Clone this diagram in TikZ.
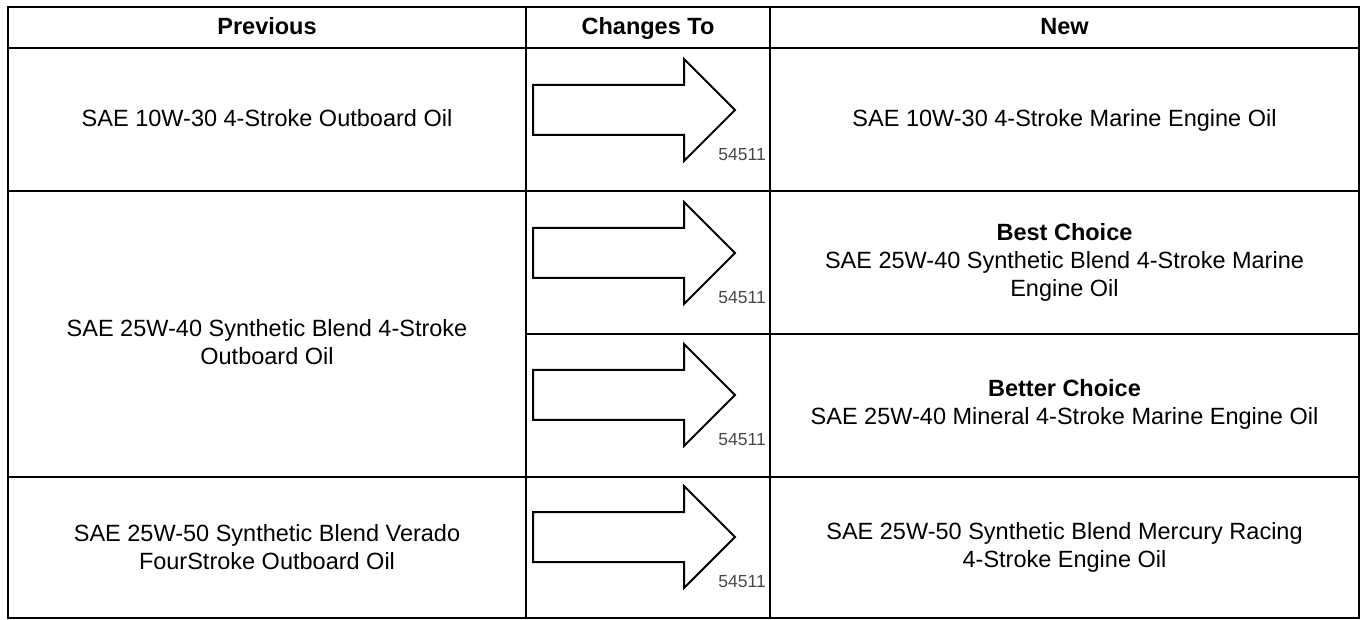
\documentclass[tikz,border=0pt]{standalone}
\usepackage{fontspec}
\setmainfont{Liberation Sans}
\begin{document}
\begin{tikzpicture}[x=1pt,y=-1pt,
  cell/.style={inner sep=0pt, align=center, font=\fontsize{23.5}{28}\selectfont},
  oneline/.style={cell, anchor=base},
  headcell/.style={oneline, font=\fontsize{23.5}{28}\selectfont\bfseries},
  gridline/.style={line width=2pt, black},
  bigarrow/.style={line width=2pt, black, fill=white, line join=miter},
  partno/.style={inner sep=0pt, anchor=east, text=black!72, font=\fontsize{17.5}{20}\selectfont}]
\useasboundingbox (0,0) rectangle (1361,620);

% table grid
\draw[gridline] (8,7) rectangle (1359,618);
\draw[gridline] (8,48.5) -- (1359,48.5);
\draw[gridline] (8,191.5) -- (1359,191.5);
\draw[gridline] (526,334) -- (1359,334);
\draw[gridline] (8,476.5) -- (1359,476.5);
\draw[gridline] (526,7) -- (526,618);
\draw[gridline] (770,7) -- (770,618);

% headers
\node[headcell] (hprev) at (267,35) {Previous};
\node[headcell] (hchg) at (648,35) {Changes To};
\node[headcell] (hnew) at (1064.5,35) {New};

% previous column
\node[oneline] (p1) at (267,127) {SAE 10W-30 4-Stroke Outboard Oil};
\node[cell] (p2) at (267,342) {SAE 25W-40 Synthetic Blend 4-Stroke\\Outboard Oil};
\node[cell] (p3) at (267,547) {SAE 25W-50 Synthetic Blend Verado\\FourStroke Outboard Oil};

% new column
\node[oneline] (n1) at (1064.5,127) {SAE 10W-30 4-Stroke Marine Engine Oil};
\node[cell] (n2) at (1064.5,262) {\textbf{Best Choice}\\SAE 25W-40 Synthetic Blend 4-Stroke Marine\\Engine Oil};
\node[cell] (n3) at (1064.5,404) {\textbf{Better Choice}\\SAE 25W-40 Mineral 4-Stroke Marine Engine Oil};
\node[cell] (n4) at (1064.5,547) {SAE 25W-50 Synthetic Blend Mercury Racing\\4-Stroke Engine Oil};

% arrows
\foreach \T/\i in {49/1,192/2,334/3,476/4}{
  \draw[bigarrow] (533,\T+36) -- (684,\T+36) -- (684,\T+10) -- (735,\T+61)
     -- (684,\T+112) -- (684,\T+86) -- (533,\T+86) -- cycle;
  \node[partno] (code\i) at (766,\T+106) {54511};
}
\end{tikzpicture}
\end{document}
